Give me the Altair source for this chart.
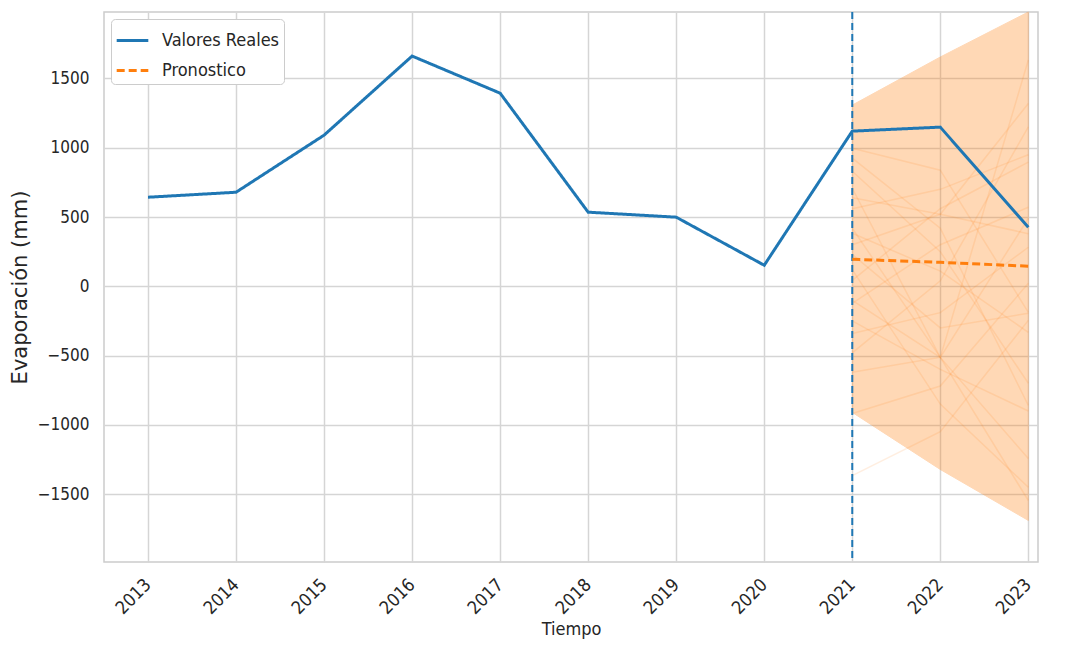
import altair as alt
import pandas as pd

# ---- data ----
years = list(range(2013, 2024))
real_values = [643, 679, 1091, 1662, 1394, 535, 499, 152, 1120, 1149, 426]

fc_years = [2021, 2022, 2023]
fc_values = [195, 173, 145]
band_upper = [1308, 1655, 1980]
band_lower = [-910, -1322, -1690]

sim_2021 = [997, 925, 708, 419, 383, 43, -101, -123, -340, -621, -918, -1366, 230, 640, 830, 120, -480, 560, -250, 300]
sim_2022 = [838, 420, -513, -513, 110, 560, -513, 300, -190, -513, -720, -1050, -300, 520, 250, -850, 40, 700, -600, 520]
sim_2023 = [-188, -860, -1243, 1633, -332, 896, 491, 571, 282, -1546, 22, -246, -195, 380, -700, -1450, 1150, 950, -900, 1320]

split_year = 2021
series_names = ["Valores Reales", "Pronostico"]

# ---- tables ----
lines_df = pd.DataFrame(
    {"year": years, "value": real_values, "serie": series_names[0]}
)
fc_df = pd.DataFrame({"year": fc_years, "value": fc_values, "serie": series_names[1]})
main_df = pd.concat([lines_df, fc_df], ignore_index=True)

band_df = pd.DataFrame({"year": fc_years, "upper": band_upper, "lower": band_lower})

sim_rows = []
for i, (a, b, c) in enumerate(zip(sim_2021, sim_2022, sim_2023)):
    for y, v in zip(fc_years, [a, b, c]):
        sim_rows.append({"sim": i, "year": y, "value": v})
sim_df = pd.DataFrame(sim_rows)

rule_df = pd.DataFrame({"year": [split_year]})

FONT = "DejaVu Sans Condensed, DejaVu Sans"
BLUE = "#1f77b4"
ORANGE = "#ff7f0e"

x_scale = alt.Scale(domain=[2012.5, 2023.11], nice=False, zero=False)
y_scale = alt.Scale(domain=[-1990, 1980], nice=False, zero=False)

x_axis = alt.Axis(
    title="Tiempo",
    values=years,
    format="d",
    labelAngle=315,
    labelAlign="right",
    labelBaseline="middle",
    labelPadding=20,
    titlePadding=3,
    titleFontSize=18,
)
y_axis = alt.Axis(
    title="Evaporación (mm)",
    values=[-1500, -1000, -500, 0, 500, 1000, 1500],
    format="d",
    labelPadding=15,
    labelFontSize=17,
    titleFont="DejaVu Sans",
    titleFontSize=21,
    titlePadding=7,
)

band = alt.Chart(band_df).mark_area(
    color=ORANGE, opacity=0.3, stroke=ORANGE, strokeWidth=1
).encode(
    x=alt.X("year:Q", scale=x_scale, axis=x_axis),
    y=alt.Y("upper:Q", scale=y_scale, axis=y_axis),
    y2="lower:Q",
)

sims = alt.Chart(sim_df).mark_line(color=ORANGE, opacity=0.13, strokeWidth=1.5).encode(
    x=alt.X("year:Q", scale=x_scale),
    y=alt.Y("value:Q", scale=y_scale),
    detail="sim:N",
)

main = alt.Chart(main_df).mark_line(strokeWidth=3).encode(
    x=alt.X("year:Q", scale=x_scale),
    y=alt.Y("value:Q", scale=y_scale),
    color=alt.Color(
        "serie:N",
        scale=alt.Scale(domain=series_names, range=[BLUE, ORANGE]),
        legend=alt.Legend(
            title=None,
            orient="top-left",
            offset=7,
            symbolType="stroke",
            symbolSize=1000,
            symbolStrokeWidth=3,
            labelFontSize=18,
            labelFont=FONT,
            labelColor="#262626",
            labelOffset=12,
            fillColor="white",
            strokeColor="#cccccc",
            cornerRadius=4,
            padding=4,
            rowPadding=3,
        ),
    ),
    strokeDash=alt.StrokeDash(
        "serie:N",
        scale=alt.Scale(domain=series_names, range=[[1, 0], [8, 4]]),
        legend=None,
    ),
)

rule = alt.Chart(rule_df).mark_rule(color=BLUE, strokeWidth=2, strokeDash=[7, 4]).encode(
    x=alt.X("year:Q", scale=x_scale)
)

chart = (
    alt.layer(band, sims, rule, main)
    .properties(
        width=934,
        height=550,
        autosize=alt.AutoSizeParams(type="none"),
        padding={"left": 96, "top": 4, "right": 21, "bottom": 81},
    )
    .configure_view(stroke="#cccccc", strokeWidth=1.5)
    .configure_axis(
        domain=False,
        ticks=False,
        grid=True,
        gridColor="#d5d5d5",
        gridWidth=1.5,
        labelFont=FONT,
        labelFontSize=18,
        labelColor="#262626",
        titleFont=FONT,
        titleFontSize=19,
        titleFontWeight="normal",
        titleColor="#262626",
    )
)

chart.save("out.html", embed_options={"renderer": "svg", "actions": False})
